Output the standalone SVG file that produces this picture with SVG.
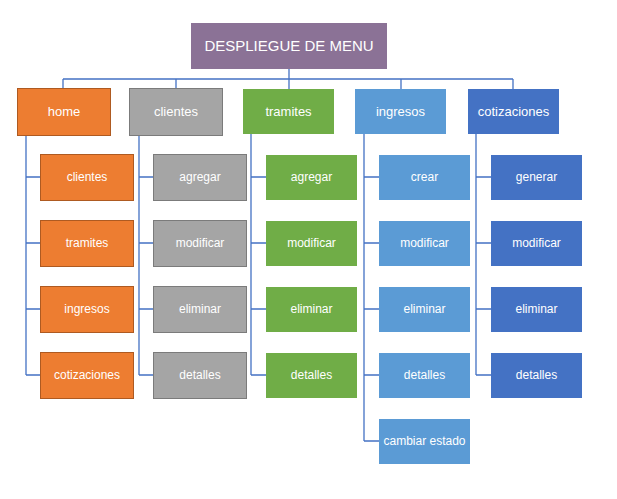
<svg xmlns="http://www.w3.org/2000/svg" width="617" height="499" viewBox="0 0 617 499">
<style>
text{font-family:"Liberation Sans",Arial,sans-serif;fill:#fff;text-anchor:middle}
.t{font-size:15px}.l1{font-size:13px}.l2{font-size:12px}
.con{stroke:#4472C4;stroke-width:1.3;fill:none}
.o{fill:#ED7D31;stroke:#AE5A21;stroke-width:1}
.g{fill:#A5A5A5;stroke:#7B7B7B;stroke-width:1}
.gr{fill:#70AD47}
.lb{fill:#5B9BD5}
.b{fill:#4472C4}
</style>
<rect width="617" height="499" fill="#fff"/>
<g id="connectors" class="con">
<path d="M289 69V79M63 79H513M63 79V88M176 79V88M289 79V89M401 79V89M513 79V89"/>
<path d="M26 135V375M26 177H40M26 243H40M26 309H40M26 375H40"/>
<path d="M139 135V375M139 177H153M139 243H153M139 309H153M139 375H153"/>
<path d="M251 134V375M251 177H266M251 243H266M251 309H266M251 375H266"/>
<path d="M364 134V441M364 177H379M364 243H379M364 309H379M364 375H379M364 441H379"/>
<path d="M476 134V375M476 177H491M476 243H491M476 309H491M476 375H491"/>
</g>
<g id="title"><rect x="191" y="23" width="196" height="46" fill="#8B7296"/><text class="t" x="289" y="51">DESPLIEGUE DE MENU</text></g>
<g id="home"><rect class="o" x="17.5" y="88.5" width="93" height="47"/><text class="l1" x="64" y="116">home</text></g>
<g id="clientes"><rect class="g" x="129.5" y="88.5" width="93" height="47"/><text class="l1" x="176" y="116">clientes</text></g>
<g id="tramites"><rect class="gr" x="243" y="89" width="91" height="45"/><text class="l1" x="288.5" y="116">tramites</text></g>
<g id="ingresos"><rect class="lb" x="355" y="89" width="91" height="45"/><text class="l1" x="400.5" y="116">ingresos</text></g>
<g id="cotizaciones"><rect class="b" x="468" y="89" width="91" height="45"/><text class="l1" x="513.5" y="116">cotizaciones</text></g>

<g id="home-clientes"><rect class="o" x="40.5" y="154.5" width="93" height="46"/><text class="l2" x="87" y="181">clientes</text></g>
<g id="home-tramites"><rect class="o" x="40.5" y="220.5" width="93" height="46"/><text class="l2" x="87" y="247">tramites</text></g>
<g id="home-ingresos"><rect class="o" x="40.5" y="286.5" width="93" height="46"/><text class="l2" x="87" y="313">ingresos</text></g>
<g id="home-cotizaciones"><rect class="o" x="40.5" y="352.5" width="93" height="46"/><text class="l2" x="87" y="379">cotizaciones</text></g>

<g id="clientes-agregar"><rect class="g" x="153.5" y="154.5" width="93" height="46"/><text class="l2" x="200" y="181">agregar</text></g>
<g id="clientes-modificar"><rect class="g" x="153.5" y="220.5" width="93" height="46"/><text class="l2" x="200" y="247">modificar</text></g>
<g id="clientes-eliminar"><rect class="g" x="153.5" y="286.5" width="93" height="46"/><text class="l2" x="200" y="313">eliminar</text></g>
<g id="clientes-detalles"><rect class="g" x="153.5" y="352.5" width="93" height="46"/><text class="l2" x="200" y="379">detalles</text></g>

<g id="tramites-agregar"><rect class="gr" x="266" y="155" width="91" height="45"/><text class="l2" x="311.5" y="181">agregar</text></g>
<g id="tramites-modificar"><rect class="gr" x="266" y="221" width="91" height="45"/><text class="l2" x="311.5" y="247">modificar</text></g>
<g id="tramites-eliminar"><rect class="gr" x="266" y="287" width="91" height="45"/><text class="l2" x="311.5" y="313">eliminar</text></g>
<g id="tramites-detalles"><rect class="gr" x="266" y="353" width="91" height="45"/><text class="l2" x="311.5" y="379">detalles</text></g>

<g id="ingresos-crear"><rect class="lb" x="379" y="155" width="91" height="45"/><text class="l2" x="424.5" y="181">crear</text></g>
<g id="ingresos-modificar"><rect class="lb" x="379" y="221" width="91" height="45"/><text class="l2" x="424.5" y="247">modificar</text></g>
<g id="ingresos-eliminar"><rect class="lb" x="379" y="287" width="91" height="45"/><text class="l2" x="424.5" y="313">eliminar</text></g>
<g id="ingresos-detalles"><rect class="lb" x="379" y="353" width="91" height="45"/><text class="l2" x="424.5" y="379">detalles</text></g>
<g id="ingresos-cambiar"><rect class="lb" x="379" y="419" width="91" height="45"/><text class="l2" x="424.5" y="445">cambiar estado</text></g>

<g id="cot-generar"><rect class="b" x="491" y="155" width="91" height="45"/><text class="l2" x="536.5" y="181">generar</text></g>
<g id="cot-modificar"><rect class="b" x="491" y="221" width="91" height="45"/><text class="l2" x="536.5" y="247">modificar</text></g>
<g id="cot-eliminar"><rect class="b" x="491" y="287" width="91" height="45"/><text class="l2" x="536.5" y="313">eliminar</text></g>
<g id="cot-detalles"><rect class="b" x="491" y="353" width="91" height="45"/><text class="l2" x="536.5" y="379">detalles</text></g>
</svg>
